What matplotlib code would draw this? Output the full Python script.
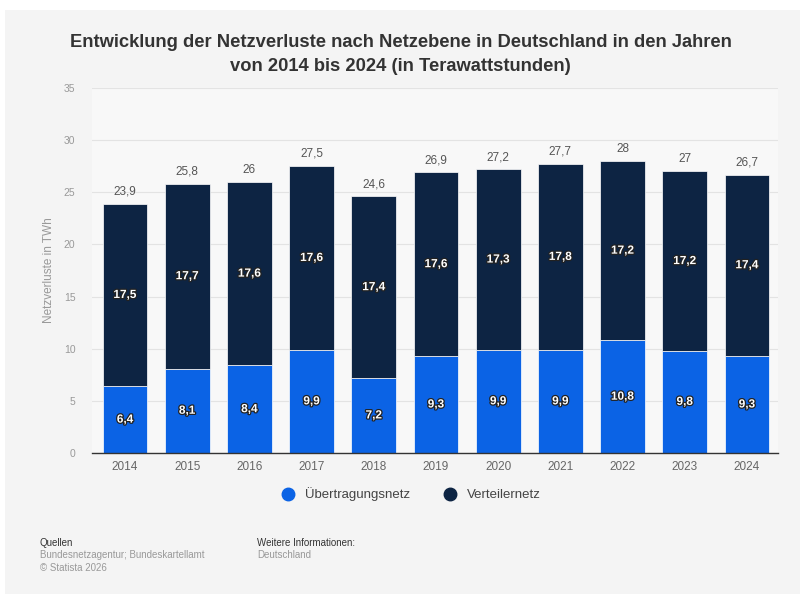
import matplotlib
matplotlib.use("Agg")
import matplotlib.pyplot as plt
import matplotlib.patheffects as pe
from matplotlib.lines import Line2D
from matplotlib.patches import Rectangle

years = ["2014", "2015", "2016", "2017", "2018", "2019", "2020", "2021", "2022", "2023", "2024"]
uebertragung = [6.4, 8.1, 8.4, 9.9, 7.2, 9.3, 9.9, 9.9, 10.8, 9.8, 9.3]
verteiler = [17.5, 17.7, 17.6, 17.6, 17.4, 17.6, 17.3, 17.8, 17.2, 17.2, 17.4]
totals = [23.9, 25.8, 26, 27.5, 24.6, 26.9, 27.2, 27.7, 28, 27, 26.7]
yticks = [0, 5, 10, 15, 20, 25, 30, 35]

def de(v):
    s = ("%g" % v)
    return s.replace(".", ",")

plt.rcParams['font.family'] = ['Liberation Sans', 'DejaVu Sans']

BLUE = "#0b63e5"
NAVY = "#0d2443"
BG = "#f4f4f4"

fig = plt.figure(figsize=(8, 5.94), dpi=100)
fig.patch.set_facecolor(BG)
# thin white margins at top and left as in the reference screenshot
fig.patches.append(Rectangle((0, 1 - 10 / 594), 1, 10 / 594, transform=fig.transFigure,
                             facecolor="white", edgecolor="none", zorder=-10))
fig.patches.append(Rectangle((0, 0), 5 / 800, 1, transform=fig.transFigure,
                             facecolor="white", edgecolor="none", zorder=-10))
ax = fig.add_axes([0.115, 0.2374, 0.8575, 0.6145])
ax.set_facecolor("#f8f8f8")

x = list(range(len(years)))
w = 0.72
ax.bar(x, uebertragung, width=w, color=BLUE, edgecolor="white", linewidth=0.5, zorder=3)
ax.bar(x, verteiler, width=w, bottom=uebertragung, color=NAVY, edgecolor="white", linewidth=0.5, zorder=3)

stroke = [pe.withStroke(linewidth=1.8, foreground="#222222")]
for i in x:
    ax.text(i, uebertragung[i] / 2, de(uebertragung[i]), ha="center", va="center",
            color="white", fontsize=8.5, fontweight="bold", path_effects=stroke, zorder=5)
    ax.text(i, uebertragung[i] + verteiler[i] / 2, de(verteiler[i]), ha="center", va="center",
            color="white", fontsize=8.5, fontweight="bold", path_effects=stroke, zorder=5)
    ax.text(i, totals[i] + 0.6, de(totals[i]), ha="center", va="bottom",
            color="#555555", fontsize=8.5, zorder=5)

ax.set_xlim(-0.53, 10.5)
ax.set_ylim(0, 35)
ax.set_yticks(yticks)
ax.set_yticklabels([str(t) for t in yticks], color="#999999", fontsize=7.5)
ax.set_xticks(x)
ax.set_xticklabels(years, color="#666666", fontsize=8.5)
ax.tick_params(axis="both", length=0)
ax.tick_params(axis="y", pad=12)
ax.tick_params(axis="x", pad=6)
ax.yaxis.grid(True, color="#e3e3e3", linewidth=0.8, zorder=0)
ax.set_axisbelow(True)
for s in ["top", "right", "left"]:
    ax.spines[s].set_visible(False)
ax.spines["bottom"].set_color("#333333")
ax.spines["bottom"].set_linewidth(1.0)
ax.spines["bottom"].set_zorder(6)
ax.set_ylabel("Netzverluste in TWh", color="#999999", fontsize=8.5, labelpad=6)

fig.text(0.501, 0.929, "Entwicklung der Netzverluste nach Netzebene in Deutschland in den Jahren",
         ha="center", va="center", fontsize=13.2, fontweight="bold", color="#333333")
fig.text(0.501, 0.888, "von 2014 bis 2024 (in Terawattstunden)",
         ha="center", va="center", fontsize=13.2, fontweight="bold", color="#333333")

handles = [Line2D([0], [0], marker="o", linestyle="", markersize=9, markerfacecolor=BLUE, markeredgecolor=BLUE),
           Line2D([0], [0], marker="o", linestyle="", markersize=9, markerfacecolor=NAVY, markeredgecolor=NAVY)]
leg = fig.legend(handles, ["Übertragungsnetz", "Verteilernetz"], loc="center", bbox_to_anchor=(0.51, 0.168),
                 ncol=2, frameon=False, fontsize=9.5, handletextpad=0.3, columnspacing=2.0)
for t in leg.get_texts():
    t.set_color("#444444")

fig.text(0.05, 0.086, "Quellen", fontsize=7, color="#333333", va="center")
fig.text(0.05, 0.065, "Bundesnetzagentur; Bundeskartellamt", fontsize=7, color="#999999", va="center")
fig.text(0.05, 0.044, "© Statista 2026", fontsize=7, color="#999999", va="center")
fig.text(0.321, 0.086, "Weitere Informationen:", fontsize=7, color="#333333", va="center")
fig.text(0.321, 0.065, "Deutschland", fontsize=7, color="#999999", va="center")

fig.savefig("out.png", dpi=100, facecolor=fig.get_facecolor())
